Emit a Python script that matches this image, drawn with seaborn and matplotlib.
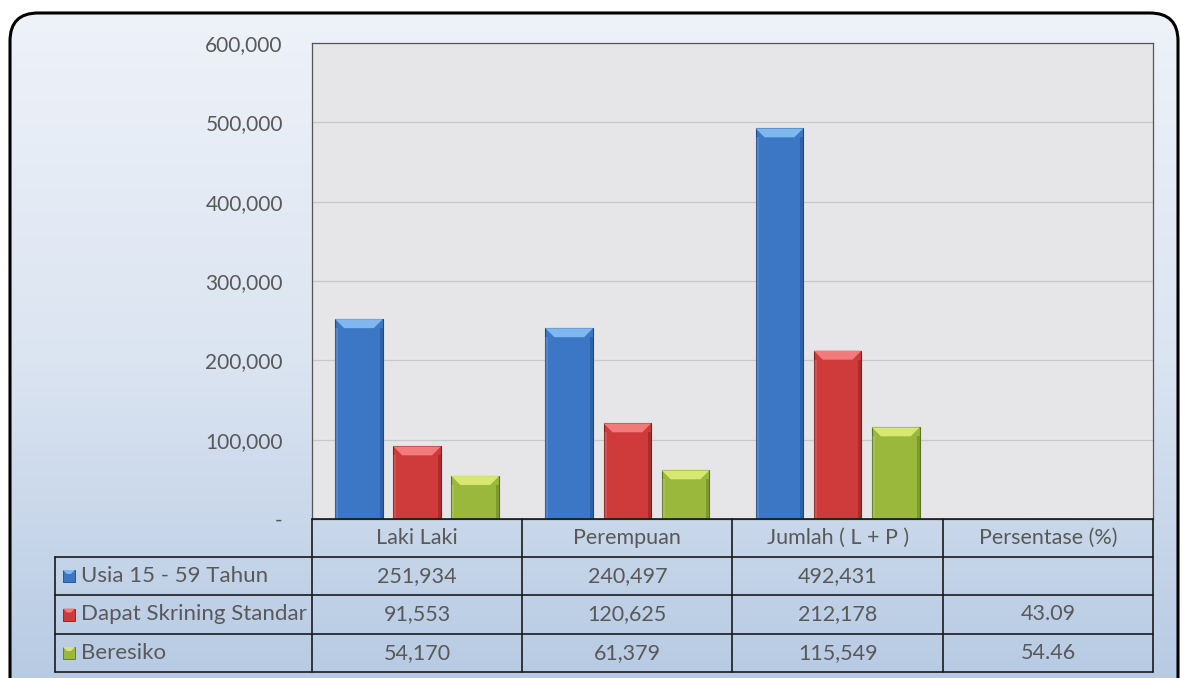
import numpy as np
import pandas as pd
import matplotlib
matplotlib.use('Agg')
import matplotlib.pyplot as plt
import seaborn as sns
from matplotlib.patches import FancyBboxPatch, Rectangle, Polygon
from matplotlib.ticker import FuncFormatter

categories = ['Laki Laki', 'Perempuan', 'Jumlah ( L + P )', 'Persentase (%)']
series = ['Usia 15 - 59 Tahun', 'Dapat Skrining Standar', 'Beresiko']
usia = [251934, 240497, 492431, np.nan]
skrining = [91553, 120625, 212178, 43.09]
beresiko = [54170, 61379, 115549, 54.46]
y_ticks = [0, 100000, 200000, 300000, 400000, 500000, 600000]

colors = ['#3b77c4', '#cf3a3a', '#9ab83c']
tops = ['#7fb8f0', '#f27a7a', '#d6e872']
edges = ['#1f4a86', '#7f1f1f', '#5b7420']

W, H = 1183, 678
PL, PR, PT, PB = 312, 1153, 43, 519
TL = 55
ROW_Y = [519, 557, 595, 634, 672]
TEXT = '#595959'
FS = 15.5

sns.set_theme(style='white')
plt.rcParams['font.family'] = ['Lato', 'DejaVu Sans']

df = pd.DataFrame({
    'kategori': np.repeat(categories, 3),
    'seri': series * 4,
    'nilai': np.ravel(np.column_stack([usia, skrining, beresiko])),
})

fig = plt.figure(figsize=(W / 100, H / 100), dpi=100)

# background with rounded frame and gradient
bg = fig.add_axes([0, 0, 1, 1], zorder=0)
bg.set_xlim(0, W)
bg.set_ylim(H, 0)
bg.axis('off')
frame = FancyBboxPatch((10, 13), 1168, 700, boxstyle='round,pad=0,rounding_size=28',
                       facecolor='none', edgecolor='black', linewidth=2.2, zorder=3)
bg.add_patch(frame)
grad = np.linspace(0, 1, 256).reshape(-1, 1)
cmap = matplotlib.colors.LinearSegmentedColormap.from_list('bgc', ['#eef2f9', '#dbe4f1', '#b3c8e2'])
im = bg.imshow(grad, cmap=cmap, extent=(10, 1178, 713, 13), aspect='auto', zorder=1)
im.set_clip_path(frame)

# chart area
ax = fig.add_axes([PL / W, 1 - PB / H, (PR - PL) / W, (PB - PT) / H], zorder=2)
ax.set_facecolor('#e6e6e8')
sns.barplot(data=df, x='kategori', y='nilai', hue='seri', hue_order=series,
            order=categories, palette=colors, width=0.83, gap=0.18,
            errorbar=None, legend=False, ax=ax, linewidth=0.8, saturation=1)
ax.set_xlim(-0.5, 3.5)
ax.set_ylim(0, 600000)
ax.set_yticks(y_ticks)
ax.yaxis.set_major_formatter(FuncFormatter(lambda v, p: '-' if v == 0 else f'{v:,.0f}'))
ax.tick_params(axis='y', length=0, pad=21, labelsize=15, labelcolor=TEXT)
ax.set_xticks([])
ax.set_xlabel('')
ax.set_ylabel('')
ax.yaxis.grid(True, color='#c8c8ca', linewidth=0.9)
ax.set_axisbelow(True)
for s in ax.spines.values():
    s.set_color('#555555')
    s.set_linewidth(0.9)

# bevel effect on bars
px_x = 4 / (PR - PL)
px_y = 600000 / (PB - PT)
hue_of = {}
for i, bars in enumerate(ax.containers):
    for p in bars:
        hue_of[id(p)] = i
for p in ax.patches:
    h = p.get_height()
    if not np.isfinite(h) or h <= 0 or id(p) not in hue_of:
        continue
    i = hue_of[id(p)]
    p.set_edgecolor(edges[i])
    x0, w = p.get_x(), p.get_width()
    bev = min(9 * px_y, h / 2)
    ix = 9 * px_x
    ax.add_patch(Polygon([(x0, h), (x0 + w, h), (x0 + w - ix, h - bev), (x0 + ix, h - bev)],
                         closed=True, facecolor=tops[i], edgecolor='none', zorder=3))
    ax.add_patch(Rectangle((x0 + w - 3 * px_x, 0), 3 * px_x, h - bev,
                           facecolor=edges[i], alpha=0.45, edgecolor='none', zorder=3))
    ax.add_patch(Rectangle((x0, 0), 3 * px_x, h - bev,
                           facecolor='white', alpha=0.12, edgecolor='none', zorder=3))

# data table
ov = fig.add_axes([0, 0, 1, 1], zorder=5)
ov.set_xlim(0, W)
ov.set_ylim(H, 0)
ov.axis('off')
colw = (PR - PL) / len(categories)
col_x = [PL + k * colw for k in range(len(categories) + 1)]
lc = '#1a1a1a'
ov.plot([PL, PR], [ROW_Y[0], ROW_Y[0]], color=lc, lw=1.2)
for y in ROW_Y[1:]:
    ov.plot([TL, PR], [y, y], color=lc, lw=1.2)
ov.plot([TL, TL], [ROW_Y[1], ROW_Y[-1]], color=lc, lw=1.2)
for x in col_x:
    ov.plot([x, x], [ROW_Y[0], ROW_Y[-1]], color=lc, lw=1.2)

for k, cat in enumerate(categories):
    ov.text(col_x[k] + colw / 2, (ROW_Y[0] + ROW_Y[1]) / 2, cat, ha='center', va='center',
            fontsize=FS, color=TEXT)

rows = [usia, skrining, beresiko]
for r, (name, vals) in enumerate(zip(series, rows)):
    yc = (ROW_Y[r + 1] + ROW_Y[r + 2]) / 2
    ov.add_patch(Rectangle((63, yc - 6), 12, 12, facecolor=colors[r], edgecolor=edges[r], lw=0.6))
    ov.add_patch(Polygon([(63, yc - 6), (75, yc - 6), (71, yc - 2), (67, yc - 2)],
                         facecolor=tops[r], edgecolor='none'))
    ov.text(81, yc, name, ha='left', va='center', fontsize=FS + 0.5, color=TEXT)
    for k, v in enumerate(vals):
        if not np.isfinite(v):
            continue
        label = f'{v:.2f}' if k == 3 else f'{v:,.0f}'
        ov.text(col_x[k] + colw / 2, yc, label, ha='center', va='center',
                fontsize=FS, color=TEXT)

fig.savefig('out.png', dpi=100)
